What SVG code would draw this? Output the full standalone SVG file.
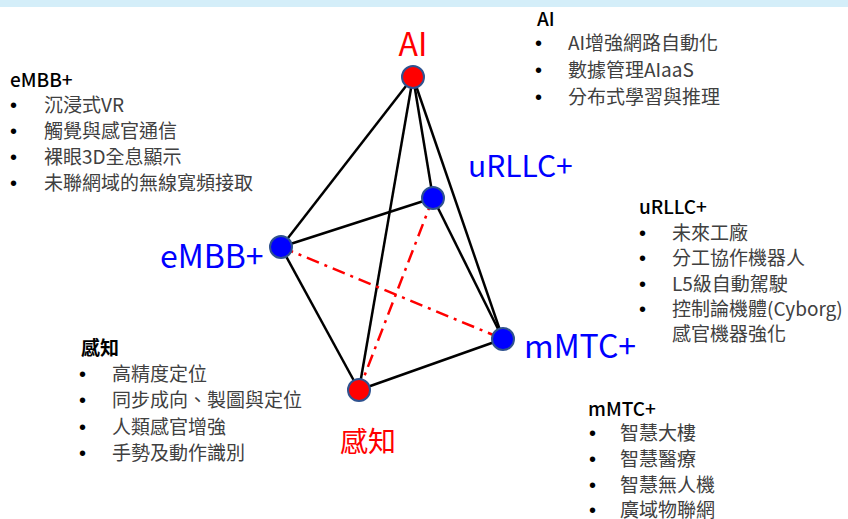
<svg xmlns="http://www.w3.org/2000/svg" width="848" height="519" viewBox="0 0 848 519">
<style>
.t{font-family:"Noto Sans CJK TC","Noto Sans",sans-serif;font-size:19px;fill:#404040}
.h{font-family:"Noto Sans CJK TC","Noto Sans",sans-serif;font-size:19px;font-weight:500;fill:#000}
.b{font-family:"Liberation Sans",Arial,sans-serif;font-size:20px;fill:#000}
.big{font-family:"Noto Sans CJK TC","Noto Sans",sans-serif;font-size:32px}
.e{stroke:#000;stroke-width:2.5;fill:none}
.d{stroke:#ff0000;stroke-width:2.5;fill:none;stroke-dasharray:13 6 3 6}
.nr{fill:#ff0000;stroke:#2f528f;stroke-width:2}
.nb{fill:#0000ff;stroke:#2f528f;stroke-width:2}
</style>
<rect x="0" y="0" width="848" height="7" fill="#d4eef9"/>
<g id="connectors">
<line class="e" x1="413" y1="77" x2="281" y2="247"/>
<line class="e" x1="413" y1="77" x2="359" y2="390"/>
<line class="e" x1="413" y1="77" x2="433" y2="198"/>
<line class="e" x1="413" y1="77" x2="503" y2="339"/>
<line class="e" x1="433" y1="198" x2="503" y2="339"/>
<line class="e" x1="281" y1="247" x2="433" y2="198"/>
<line class="e" x1="281" y1="247" x2="359" y2="390"/>
<line class="e" x1="359" y1="390" x2="503" y2="339"/>
<line class="d" x1="281" y1="247" x2="503" y2="339"/>
<line class="d" x1="433" y1="198" x2="359" y2="390"/>
</g>
<g id="node-ai">
<circle class="nr" cx="413" cy="77" r="11"/>
<text class="big" x="413" y="56" text-anchor="middle" fill="#ff0000">AI</text>
</g>
<g id="node-urllc">
<circle class="nb" cx="433" cy="198" r="11"/>
<text class="big" x="468" y="177" fill="#0000ff" style="font-size:30px">uRLLC+</text>
</g>
<g id="node-embb">
<circle class="nb" cx="281" cy="247" r="11"/>
<text class="big" x="160" y="268" fill="#0000ff">eMBB+</text>
</g>
<g id="node-mmtc">
<circle class="nb" cx="503" cy="339" r="11"/>
<text class="big" x="524" y="358" fill="#0000ff">mMTC+</text>
</g>
<g id="node-sense">
<circle class="nr" cx="359" cy="390" r="11"/>
<text class="big" x="340" y="452" fill="#ff0000" style="font-size:28px">感知</text>
</g>
<g id="list-embb">
<text class="h" x="10" y="87">eMBB+</text>
<text class="b" x="10" y="112">•</text><text class="t" x="44" y="112">沉浸式VR</text>
<text class="b" x="10" y="138">•</text><text class="t" x="44" y="138">觸覺與感官通信</text>
<text class="b" x="10" y="164">•</text><text class="t" x="44" y="164">裸眼3D全息顯示</text>
<text class="b" x="10" y="190">•</text><text class="t" x="44" y="190">未聯網域的無線寬頻接取</text>
</g>
<g id="list-ai">
<text class="h" x="537" y="26">AI</text>
<text class="b" x="535" y="50">•</text><text class="t" x="568" y="50">AI增強網路自動化</text>
<text class="b" x="535" y="77">•</text><text class="t" x="568" y="77">數據管理AIaaS</text>
<text class="b" x="535" y="104">•</text><text class="t" x="568" y="104">分布式學習與推理</text>
</g>
<g id="list-urllc">
<text class="h" x="639" y="214">uRLLC+</text>
<text class="b" x="639" y="240">•</text><text class="t" x="672" y="240">未來工廠</text>
<text class="b" x="639" y="265">•</text><text class="t" x="672" y="265">分工協作機器人</text>
<text class="b" x="639" y="291">•</text><text class="t" x="672" y="291">L5級自動駕駛</text>
<text class="b" x="639" y="316">•</text><text class="t" x="672" y="316">控制論機體(Cyborg)</text>
<text class="t" x="672" y="341">感官機器強化</text>
</g>
<g id="list-sense">
<text class="h" x="81" y="355" style="font-weight:bold">感知</text>
<text class="b" x="79" y="381">•</text><text class="t" x="112" y="381">高精度定位</text>
<text class="b" x="79" y="407">•</text><text class="t" x="112" y="407">同步成向、製圖與定位</text>
<text class="b" x="79" y="434">•</text><text class="t" x="112" y="434">人類感官增強</text>
<text class="b" x="79" y="460">•</text><text class="t" x="112" y="460">手勢及動作識別</text>
</g>
<g id="list-mmtc">
<text class="h" x="588" y="416">mMTC+</text>
<text class="b" x="589" y="440">•</text><text class="t" x="620" y="440">智慧大樓</text>
<text class="b" x="589" y="466">•</text><text class="t" x="620" y="466">智慧醫療</text>
<text class="b" x="589" y="492">•</text><text class="t" x="620" y="492">智慧無人機</text>
<text class="b" x="589" y="517">•</text><text class="t" x="620" y="517">廣域物聯網</text>
</g>
</svg>
